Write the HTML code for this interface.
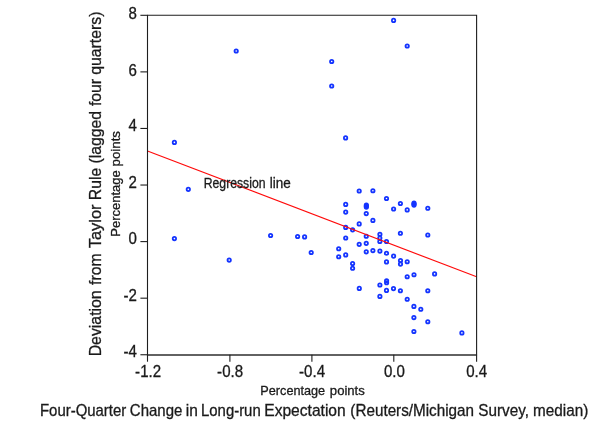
<!DOCTYPE html>
<html><head><meta charset="utf-8"><title>Scatter</title>
<style>
html,body{margin:0;padding:0;background:#fff;}
body{width:600px;height:432px;overflow:hidden;font-family:"Liberation Sans",sans-serif;}
svg{display:block;font-family:"Liberation Sans",sans-serif;}
#w{will-change:transform;width:600px;height:432px;}
</style></head><body>
<div id="w"><svg width="600" height="432" viewBox="0 0 600 432">
<rect width="600" height="432" fill="#fff"/>
<g fill="none" stroke="#1434ff" stroke-width="1.75">
<circle cx="236.2" cy="51" r="1.7"/>
<circle cx="331.7" cy="61.5" r="1.7"/>
<circle cx="331.7" cy="86" r="1.7"/>
<circle cx="174.4" cy="142.4" r="1.7"/>
<circle cx="188.3" cy="189.3" r="1.7"/>
<circle cx="174.4" cy="238.6" r="1.7"/>
<circle cx="229.2" cy="260.1" r="1.7"/>
<circle cx="270.6" cy="235.5" r="1.7"/>
<circle cx="297.6" cy="236.5" r="1.7"/>
<circle cx="304.6" cy="236.9" r="1.7"/>
<circle cx="311.2" cy="252.5" r="1.7"/>
<circle cx="338.7" cy="248.75" r="1.7"/>
<circle cx="338.7" cy="256.7" r="1.7"/>
<circle cx="393.6" cy="20.4" r="1.7"/>
<circle cx="407.2" cy="46" r="1.7"/>
<circle cx="345.6" cy="137.9" r="1.7"/>
<circle cx="359.2" cy="191.0" r="1.7"/>
<circle cx="372.9" cy="190.7" r="1.7"/>
<circle cx="386.5" cy="198.5" r="1.7"/>
<circle cx="345.7" cy="204.4" r="1.7"/>
<circle cx="366.35" cy="205.0" r="1.7"/>
<circle cx="366.35" cy="206.05" r="1.7"/>
<circle cx="366.35" cy="207.1" r="1.7"/>
<circle cx="400.4" cy="203.5" r="1.7"/>
<circle cx="393.6" cy="209.0" r="1.7"/>
<circle cx="407.2" cy="209.9" r="1.7"/>
<circle cx="414.0" cy="203.0" r="1.7"/>
<circle cx="414.0" cy="204.05" r="1.7"/>
<circle cx="414.0" cy="205.1" r="1.7"/>
<circle cx="427.8" cy="208.2" r="1.7"/>
<circle cx="345.7" cy="212.1" r="1.7"/>
<circle cx="366.25" cy="213.6" r="1.7"/>
<circle cx="372.9" cy="220.4" r="1.7"/>
<circle cx="359.2" cy="223.9" r="1.7"/>
<circle cx="345.7" cy="227.4" r="1.7"/>
<circle cx="352.6" cy="229.8" r="1.7"/>
<circle cx="400.4" cy="233.2" r="1.7"/>
<circle cx="427.8" cy="235" r="1.7"/>
<circle cx="379.9" cy="234.2" r="1.7"/>
<circle cx="366.25" cy="236.2" r="1.7"/>
<circle cx="345.7" cy="238.0" r="1.7"/>
<circle cx="379.85" cy="238.0" r="1.7"/>
<circle cx="379.85" cy="241.5" r="1.7"/>
<circle cx="386.5" cy="241.5" r="1.7"/>
<circle cx="366.25" cy="243.3" r="1.7"/>
<circle cx="359.2" cy="244.3" r="1.7"/>
<circle cx="372.9" cy="250.6" r="1.7"/>
<circle cx="366.25" cy="251.8" r="1.7"/>
<circle cx="379.9" cy="251.1" r="1.7"/>
<circle cx="386.5" cy="253.2" r="1.7"/>
<circle cx="345.7" cy="254.9" r="1.7"/>
<circle cx="393.6" cy="256.1" r="1.7"/>
<circle cx="386.5" cy="261.9" r="1.7"/>
<circle cx="400.5" cy="260.55" r="1.7"/>
<circle cx="400.5" cy="264.1" r="1.7"/>
<circle cx="407.2" cy="261.7" r="1.7"/>
<circle cx="352.6" cy="263.5" r="1.7"/>
<circle cx="352.6" cy="268.3" r="1.7"/>
<circle cx="407.2" cy="276.7" r="1.7"/>
<circle cx="414.0" cy="274.7" r="1.7"/>
<circle cx="434.6" cy="273.9" r="1.7"/>
<circle cx="386.6" cy="280.75" r="1.7"/>
<circle cx="386.6" cy="282.7" r="1.7"/>
<circle cx="379.9" cy="285" r="1.7"/>
<circle cx="359.3" cy="288.4" r="1.7"/>
<circle cx="393.5" cy="288.6" r="1.7"/>
<circle cx="386.5" cy="290.4" r="1.7"/>
<circle cx="400.4" cy="290.8" r="1.7"/>
<circle cx="427.8" cy="290.8" r="1.7"/>
<circle cx="379.9" cy="296.4" r="1.7"/>
<circle cx="407.2" cy="299.2" r="1.7"/>
<circle cx="413.9" cy="306.4" r="1.7"/>
<circle cx="420.8" cy="309.2" r="1.7"/>
<circle cx="413.9" cy="317.6" r="1.7"/>
<circle cx="427.8" cy="321.7" r="1.7"/>
<circle cx="413.9" cy="331.5" r="1.7"/>
<circle cx="461.9" cy="332.9" r="1.7"/>
</g>
<line x1="147.5" y1="151.0" x2="476.6" y2="276.8" stroke="#ff0a0a" stroke-width="1.15"/>
<g stroke="#1e1e1e" stroke-width="1.1" fill="none">
<path d="M147.5 355.35 V15.3 H476.6 V355.35"/>
<line x1="146.95" x2="476.6" y1="354.95" y2="354.95" stroke="#2e2e2e" stroke-width="1.35"/>
<line x1="140.4" x2="147.5" y1="15.30" y2="15.30"/>
<line x1="140.4" x2="147.5" y1="71.88" y2="71.88"/>
<line x1="140.4" x2="147.5" y1="128.45" y2="128.45"/>
<line x1="140.4" x2="147.5" y1="185.03" y2="185.03"/>
<line x1="140.4" x2="147.5" y1="241.60" y2="241.60"/>
<line x1="140.4" x2="147.5" y1="298.18" y2="298.18"/>
<line x1="140.4" x2="147.5" y1="354.75" y2="354.75"/>
<line x1="147.5" x2="147.5" y1="354.75" y2="361.7"/>
<line x1="229.9" x2="229.9" y1="354.75" y2="361.7"/>
<line x1="311.9" x2="311.9" y1="354.75" y2="361.7"/>
<line x1="393.8" x2="393.8" y1="354.75" y2="361.7"/>
<line x1="476.6" x2="476.6" y1="354.75" y2="361.7"/>
</g>
<g font-size="15.7px" fill="#1a1a1a" stroke="#1a1a1a" stroke-width="0.3">
<text transform="translate(136.8,18.60) scale(0.96,1)" text-anchor="end">8</text>
<text transform="translate(136.8,75.50) scale(0.96,1)" text-anchor="end">6</text>
<text transform="translate(136.8,130.50) scale(0.96,1)" text-anchor="end">4</text>
<text transform="translate(136.8,187.50) scale(0.96,1)" text-anchor="end">2</text>
<text transform="translate(136.8,243.90) scale(0.96,1)" text-anchor="end">0</text>
<text transform="translate(136.8,300.50) scale(0.96,1)" text-anchor="end">-2</text>
<text transform="translate(136.8,357.10) scale(0.96,1)" text-anchor="end">-4</text>
<text transform="translate(148.1,376.8) scale(0.96,1)" text-anchor="middle">-1.2</text>
<text transform="translate(230.1,376.8) scale(0.96,1)" text-anchor="middle">-0.8</text>
<text transform="translate(312.05,376.8) scale(0.96,1)" text-anchor="middle">-0.4</text>
<text transform="translate(394.4,376.8) scale(0.96,1)" text-anchor="middle">0.0</text>
<text transform="translate(476.7,376.8) scale(0.96,1)" text-anchor="middle">0.4</text>
</g>
<g fill="#1a1a1a" stroke="#1a1a1a" stroke-width="0.3">
<text transform="translate(39.98,415.7) scale(0.9519,1)" font-size="15.7px">Four-Quarter</text>
<text transform="translate(129.82,415.7) scale(0.9555,1)" font-size="15.7px">Change</text>
<text transform="translate(185.71,415.7) scale(0.9866,1)" font-size="15.7px">in</text>
<text transform="translate(201.02,415.7) scale(0.9503,1)" font-size="15.7px">Long-run</text>
<text transform="translate(264.24,415.7) scale(0.9937,1)" font-size="15.7px">Expectation</text>
<text transform="translate(350.36,415.7) scale(0.9712,1)" font-size="15.7px">(Reuters/Michigan</text>
<text transform="translate(478.29,415.7) scale(0.9732,1)" font-size="15.7px">Survey,</text>
<text transform="translate(533.05,415.7) scale(0.9743,1)" font-size="15.7px">median)</text>
<text transform="translate(101.1,356.32) rotate(-90) scale(0.9654,1)" font-size="16.4px">Deviation</text>
<text transform="translate(101.1,284.89) rotate(-90) scale(0.9606,1)" font-size="16.4px">from</text>
<text transform="translate(101.1,248.32) rotate(-90) scale(1.0019,1)" font-size="16.4px">Taylor</text>
<text transform="translate(101.1,200.15) rotate(-90) scale(0.9576,1)" font-size="16.4px">Rule</text>
<text transform="translate(101.1,163.53) rotate(-90) scale(0.9635,1)" font-size="16.4px">(lagged</text>
<text transform="translate(101.1,106.10) rotate(-90) scale(0.9628,1)" font-size="16.4px">four</text>
<text transform="translate(101.1,74.84) rotate(-90) scale(0.9651,1)" font-size="16.4px">quarters)</text>
<text transform="translate(260.34,395.2) scale(0.9766,1)" font-size="13px">Percentage</text>
<text transform="translate(329.84,395.2) scale(1.0094,1)" font-size="13px">points</text>
<text transform="translate(119.75,236.76) rotate(-90) scale(1.01,1)" font-size="12.9px">Percentage</text>
<text transform="translate(119.75,166.41) rotate(-90) scale(1.028,1)" font-size="12.9px">points</text>
<text transform="translate(203.71,187.6) scale(0.8867,1)" font-size="13.8px">Regression</text>
<text transform="translate(269.74,187.6) scale(0.9804,1)" font-size="13.8px">line</text>
</g>
</svg></div>
</body></html>
